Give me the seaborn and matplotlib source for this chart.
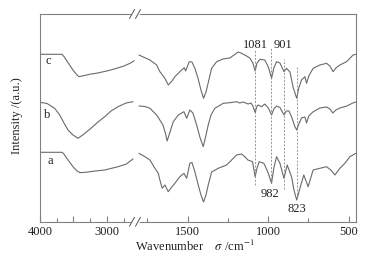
import numpy as np
import pandas as pd
import matplotlib
matplotlib.use("Agg")
import matplotlib.pyplot as plt
from matplotlib.lines import Line2D
import seaborn as sns

# ---------------- data (intensity in a.u. incl. offsets) ----
# high-wavenumber segment (4000-2560)
wn_hi_a = [4000, 3670, 3640, 3600, 3550, 3500, 3450, 3400, 3300, 3200, 3031, 2832, 2712, 2608]
int_hi_a = [69.4, 69.4, 67.5, 63.5, 59.0, 54.5, 51.0, 49.0, 49.5, 50.5, 51.7, 55.0, 57.5, 62.7]

wn_hi_b = [4000, 3895, 3780, 3705, 3641, 3581, 3506, 3431, 3341, 3232, 3132, 3031, 2937, 2832, 2712, 2608]
int_hi_b = [119.4, 118.2, 113.4, 106.7, 98.7, 91.7, 86.7, 83.4, 87.7, 93.7, 99.7, 105.0, 110.7, 115.0, 118.7, 120.0]

wn_hi_c = [4000, 3670, 3640, 3600, 3550, 3500, 3450, 3416, 3350, 3250, 3150, 3050, 2950, 2850, 2750, 2650, 2590]
int_hi_c = [167.4, 167.4, 165.0, 161.0, 156.0, 151.0, 147.0, 145.0, 146.0, 147.5, 148.5, 150.0, 151.5, 153.5, 155.5, 158.5, 161.0]

# fingerprint segment (1820-455)
wn_lo_a = [1802, 1765, 1734, 1703, 1682, 1672, 1658, 1641, 1620, 1603, 1579, 1548, 1523, 1506, 1486, 1473,
           1455, 1434, 1417, 1401, 1386, 1372, 1351, 1310, 1258, 1196, 1165, 1145, 1126, 1097, 1081, 1069,
           1056, 1027, 1002, 979, 965, 948, 927, 902, 882, 855, 840, 823, 803, 779, 752, 721, 679, 638,
           611, 586, 555, 524, 493, 456]
int_lo_a = [68.4, 65.0, 61.7, 53.4, 48.4, 41.7, 33.4, 36.7, 30.0, 33.7, 38.4, 45.0, 48.4, 43.4, 58.4, 59.2,
            50.0, 36.7, 26.7, 19.7, 26.7, 36.7, 49.7, 53.4, 56.7, 66.7, 67.7, 65.0, 61.7, 60.0, 45.0, 53.7,
            60.0, 58.4, 49.7, 38.4, 53.7, 65.0, 58.4, 43.4, 56.7, 45.0, 31.7, 21.7, 33.4, 46.7, 35.0, 51.7,
            53.4, 55.0, 51.7, 46.7, 53.4, 58.4, 65.0, 68.4]

wn_lo_b = [1802, 1765, 1734, 1692, 1653, 1638, 1627, 1613, 1589, 1558, 1523, 1506, 1486, 1467, 1444, 1424,
           1403, 1390, 1372, 1355, 1331, 1279, 1238, 1196, 1176, 1155, 1124, 1107, 1095, 1081, 1069, 1062,
           1041, 1021, 999, 979, 965, 948, 927, 902, 888, 871, 852, 836, 823, 810, 793, 772, 762, 748,
           723, 679, 638, 617, 599, 580, 555, 512, 475, 456]
int_lo_b = [115.7, 115.2, 113.4, 106.7, 96.7, 88.7, 80.7, 87.7, 100.0, 106.7, 110.0, 103.4, 111.7, 108.7, 96.7, 84.7,
            75.0, 83.7, 96.7, 106.7, 113.4, 118.4, 119.0, 120.0, 118.7, 119.7, 117.7, 118.7, 115.7, 109.2, 115.7, 116.7,
            115.0, 117.7, 113.7, 106.7, 112.7, 115.7, 114.2, 106.7, 110.7, 110.7, 103.7, 95.7, 91.7, 97.7, 103.7, 104.7, 98.7, 105.7,
            109.7, 113.7, 114.7, 112.7, 108.7, 111.7, 113.7, 115.7, 118.7, 119.7]

wn_lo_c = [1802, 1734, 1692, 1672, 1641, 1620, 1597, 1579, 1548, 1521, 1512, 1490, 1473, 1455, 1436, 1417,
           1401, 1386, 1374, 1351, 1320, 1281, 1238, 1186, 1165, 1134, 1114, 1095, 1081, 1069, 1051, 1021,
           999, 979, 965, 948, 927, 902, 886, 865, 844, 823, 810, 793, 772, 762, 748, 721, 679, 638,
           617, 597, 580, 555, 514, 473, 456]
int_lo_c = [166.7, 161.7, 156.7, 150.0, 143.4, 136.7, 140.7, 145.0, 150.0, 154.0, 150.7, 160.0, 159.7, 153.4, 143.7, 131.7,
            123.4, 129.7, 137.7, 153.4, 160.0, 162.7, 163.7, 169.7, 168.4, 165.7, 163.7, 158.7, 150.7, 158.7, 162.4, 161.7,
            154.7, 143.4, 153.7, 160.0, 158.7, 150.0, 153.4, 149.7, 133.7, 123.4, 133.7, 141.7, 145.0, 138.4, 145.7, 153.4, 156.7, 158.4,
            155.7, 150.0, 153.7, 156.7, 160.0, 166.7, 167.4]

sample_names = ["a", "b", "c"]
name_wn = [3850, 3890, 3870]
name_int = [61.0, 106.7, 160.7]

peak_wn = [1081, 982, 901, 823]
peak_top = [171.7, 173.7, 162.7, 154.7]
peak_bottom = [36.7, 38.7, 32.7, 23.7]
peak_label_wn = [1081, 989, 909, 824]
peak_label_int = [176.7, 27.7, 176.7, 12.7]

# ---------------- drawing ----------------
sns.set_theme(style="white")
plt.rcParams["font.family"] = ["Liberation Serif", "DejaVu Serif"]
plt.rcParams["mathtext.fontset"] = "stix"

W, H = 377, 261
fig = plt.figure(figsize=(W / 100, H / 100), dpi=100)

x0, xb, x1 = 40, 136.2, 356
yb, yt = 221.7, 14
axL = fig.add_axes([x0 / W, 1 - yb / H, (xb - x0) / W, (yb - yt) / H])
axR = fig.add_axes([xb / W, 1 - yb / H, (x1 - xb) / W, (yb - yt) / H])

line_col = "#6a6a6a"
spine_col = "#808080"
fs = 9

def df_of(wn, val):
    return pd.DataFrame({"wn": wn, "I": val})

for wn, val in [(wn_hi_a, int_hi_a), (wn_hi_b, int_hi_b), (wn_hi_c, int_hi_c)]:
    sns.lineplot(data=df_of(wn, val), x="wn", y="I", ax=axL, color=line_col,
                 lw=0.8, estimator=None, sort=False)
for wn, val in [(wn_lo_a, int_lo_a), (wn_lo_b, int_lo_b), (wn_lo_c, int_lo_c)]:
    sns.lineplot(data=df_of(wn, val), x="wn", y="I", ax=axR, color=line_col,
                 lw=0.8, estimator=None, sort=False)

axL.set_xlim(4000, 2560)
axR.set_xlim(1819, 455)
for ax in (axL, axR):
    ax.set_ylim(0, yb - yt)
    ax.set_yticks([])
    ax.set_xlabel("")
    ax.set_ylabel("")
    for s in ax.spines.values():
        s.set_color(spine_col)
        s.set_linewidth(0.8)
    ax.tick_params(axis="x", which="both", direction="in", bottom=True, top=False,
                   colors=spine_col, labelcolor="#222222", labelsize=fs, pad=3)
    ax.tick_params(axis="x", which="major", length=4, width=0.8)
    ax.tick_params(axis="x", which="minor", length=3, width=0.8)

axL.spines["right"].set_visible(False)
axR.spines["left"].set_visible(False)

axL.set_xticks([4000, 3500, 3000])
axL.set_xticklabels(["4000", "", "3000"])
axL.set_xticks([3750, 3250, 2750], minor=True)
axR.set_xticks([1500, 1000, 500])
axR.set_xticklabels(["1500", "1000", "500"])
axR.set_xticks([1750, 1250, 750], minor=True)

# sample names
for n, w, v in zip(sample_names, name_wn, name_int):
    axL.text(w, v, n, fontsize=fs, ha="center", va="center", color="#222222")

# peak markers
for w, t, b in zip(peak_wn, peak_top, peak_bottom):
    axR.plot([w, w], [b, t], color="#888888", lw=0.6, ls=(0, (2.5, 1.8)))
for w, lw_, v in zip(peak_label_wn, peak_wn, peak_label_int):
    axR.text(w, v, str(lw_), fontsize=fs, ha="center", va="center", color="#222222")

# break marks
for yy in (yt, yb):
    yf = 1 - yy / H
    # white gap in spine
    fig.add_artist(Line2D([131.5 / W, 138.5 / W], [yf, yf], color="white", lw=1.5,
                          transform=fig.transFigure))
    for cx in (132.0, 138.0):
        fig.add_artist(Line2D([(cx - 2.5) / W, (cx + 2.5) / W],
                              [yf - 4.5 / H, yf + 4.5 / H],
                              color="#555555", lw=0.7, transform=fig.transFigure))

fig.text(17 / W, 1 - 116 / H, "Intensity /(a.u.)", rotation=90, ha="center",
         va="center", fontsize=fs, color="#222222")
fig.text(195 / W, 1 - 246 / H, r"Wavenumber    $\sigma$ /cm$^{-1}$", ha="center",
         va="center", fontsize=fs, color="#222222")

fig.savefig("out.png", dpi=100)
